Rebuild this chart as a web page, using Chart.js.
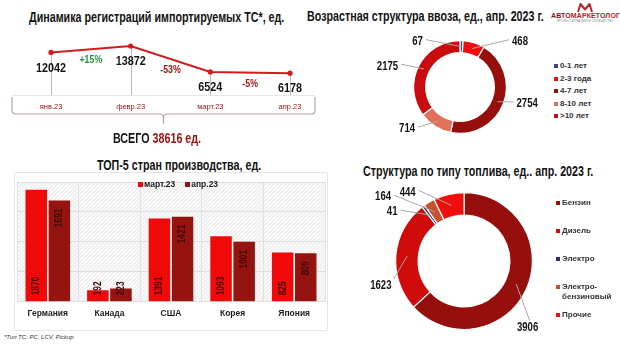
<!DOCTYPE html>
<html lang="ru">
<head>
<meta charset="utf-8">
<title>Импорт ТС, апр. 2023</title>
<script src="https://cdn.jsdelivr.net/npm/chart.js@4.4.0/dist/chart.umd.min.js"></script>
<style>
  html, body { margin: 0; padding: 0; background: #fff; }
  body {
    width: 620px; height: 345px; position: relative; overflow: hidden;
    font-family: "Liberation Sans", Arial, sans-serif;
    color: #111;
  }
  canvas { position: absolute; }
  .title {
    position: absolute; font-weight: bold; font-size: 14px; line-height: 14px;
    white-space: nowrap; color: #141414;
    transform: scaleX(0.765); transform-origin: 0 50%;
  }
  .panel {
    position: absolute; left: 14px; top: 172px; width: 312px; height: 157px;
    border: 1px solid #e6e6e6; border-radius: 2px;
  }
  .total {
    position: absolute; left: 113px; top: 131px; white-space: nowrap;
    font-weight: bold; font-size: 14.5px; line-height: 14px; color: #141414;
    transform: scaleX(0.74); transform-origin: 0 50%;
  }
  .total span { color: #a01414; }
  .legend { position: absolute; margin: 0; padding: 0; list-style: none; font-weight: bold; color: #333; }
  .legend li { position: relative; padding-left: 6px; }
  .legend li i { position: absolute; left: 0; width: 4px; height: 4px; }
  .age-legend { left: 554px; top: 60px; font-size: 8px; }
  .age-legend li { height: 12.5px; line-height: 12px; }
  .age-legend li i { top: 4px; }
  .fuel-legend { left: 556px; top: 198px; font-size: 8px; width: 52px; }
  .fuel-legend li { height: 28px; line-height: 10px; }
  .fuel-legend li i { top: 3px; }
  .bar-legend { left: 138px; top: 179px; font-size: 8.5px; display: flex; color: #222; }
  .bar-legend li { padding-left: 6px; margin-right: 10px; line-height: 11px; }
  .bar-legend li i { width: 5px; height: 5px; top: 3px; }
  .note { position: absolute; left: 4px; top: 334px; font-size: 6px; font-style: italic; color: #333; }
  .logo { position: absolute; left: 551px; top: 3px; width: 68px; text-align: center; }
  .logo b { display: block; margin-top: 9px; font-size: 7px; line-height: 7px; letter-spacing: 0.1px; color: #b0222a; }
  .logo b em { font-style: normal; color: #7d1a1e; }
  .logo small { display: block; font-size: 3px; line-height: 4px; color: #888; }
  .logo svg { position: absolute; left: 26px; top: 0; }
</style>
</head>
<body>

<div class="title" style="left:29px; top:10px;">Динамика регистраций импортируемых ТС*, ед.</div>
<div class="title" style="left:307px; top:9px;">Возрастная структура ввоза, ед., апр. 2023 г.</div>
<div class="title" style="left:97px; top:158px;">ТОП-5 стран производства, ед.</div>
<div class="title" style="left:363px; top:164px;">Структура по типу топлива, ед.. апр. 2023 г.</div>

<div class="logo">
  <svg width="16" height="10" viewBox="0 0 16 10">
    <path d="M1 9 L3.5 1 L8 6.5 L12.5 1 L15 9" fill="none" stroke="#c0242b" stroke-width="2" stroke-linejoin="round"/>
  </svg>
  <b><em>АВТО</em>МАРКЕТОЛОГ</b>
  <small>ПРОФЕССИОНАЛЬНОЕ СООБЩЕСТВО</small>
</div>

<canvas id="lineChart" width="320" height="150" style="left:0; top:0;"></canvas>
<div class="total" id="total"></div>

<div class="panel"></div>
<canvas id="barChart" width="314" height="158" style="left:14px; top:172px;"></canvas>
<ul class="legend bar-legend" id="barLegend"></ul>

<canvas id="ageChart" width="180" height="125" style="left:370px; top:25px;"></canvas>
<ul class="legend age-legend" id="ageLegend"></ul>

<canvas id="fuelChart" width="210" height="160" style="left:360px; top:180px;"></canvas>
<ul class="legend fuel-legend" id="fuelLegend"></ul>

<div class="note">*Тип ТС: PC, LCV, Pickup</div>

<script>
// ---- данные ----
var months = ['янв.23', 'февр.23', 'март.23', 'апр.23'];
var registrations = [12042, 13872, 6524, 6178];

var countries = ['Германия', 'Канада', 'США', 'Корея', 'Япония'];
var barSeries = ['март.23', 'апр.23'];
var marchByCountry = [1870, 192, 1391, 1093, 825];
var aprilByCountry = [1691, 223, 1421, 1001, 809];

var ageGroups = ['0-1 лет', '2-3 года', '4-7 лет', '8-10 лет', '>10 лет'];
var ageCounts = [67, 468, 2754, 714, 2175];

var fuelTypes = ['Бензин', 'Дизель', 'Электро', 'Электро-бензиновый', 'Прочие'];
var fuelCounts = [3906, 1623, 41, 164, 444];

// ---- оформление ----
var FONT = '"Liberation Sans", Arial, sans-serif';
var NARROW = 0.8; // сжатие подписей по ширине
Chart.defaults.font.family = FONT;
Chart.defaults.animation = false;
Chart.defaults.plugins.legend.display = false;
Chart.defaults.plugins.tooltip.enabled = false;

var ageColors = ['#4a3f8f', '#f00c0c', '#960f0c', '#e4705a', '#c90a0e'];
var fuelColors = ['#960f0c', '#d00b0b', '#2b2b6e', '#c8502f', '#f20d0d'];

function buildLegend(id, labels, colors) {
  var ul = document.getElementById(id);
  labels.forEach(function (text, i) {
    var li = document.createElement('li');
    var mark = document.createElement('i');
    mark.style.background = colors[i];
    li.appendChild(mark);
    li.appendChild(document.createTextNode(text));
    ul.appendChild(li);
  });
}

// узкий текст на канве, rot — поворот в радианах
function narrowText(ctx, text, x, y, rot) {
  ctx.save();
  ctx.translate(x, y);
  if (rot) ctx.rotate(rot);
  ctx.scale(NARROW, 1);
  ctx.fillText(text, 0, 0);
  ctx.restore();
}

// ---- линия: динамика регистраций ----
// подписи значений, % изменения, выноски вниз и фигурная скобка под месяцами
var lineDecor = {
  id: 'lineDecor',
  beforeDatasetsDraw: function (chart) {
    var ctx = chart.ctx, area = chart.chartArea;
    var pts = chart.getDatasetMeta(0).data;
    ctx.save();
    ctx.strokeStyle = '#b8b8b8';
    ctx.lineWidth = 1;
    pts.forEach(function (p) {
      ctx.beginPath();
      ctx.moveTo(Math.round(p.x) + 0.5, p.y);
      ctx.lineTo(Math.round(p.x) + 0.5, area.bottom);
      ctx.stroke();
    });
    ctx.restore();
  },
  afterDatasetsDraw: function (chart) {
    var ctx = chart.ctx, area = chart.chartArea;
    var pts = chart.getDatasetMeta(0).data;
    var vals = chart.data.datasets[0].data;
    ctx.save();
    ctx.textAlign = 'center';
    ctx.textBaseline = 'middle';

    ctx.font = 'bold 13.5px ' + FONT;
    ctx.fillStyle = '#141414';
    pts.forEach(function (p, i) {
      narrowText(ctx, String(vals[i]), p.x, p.y + 15.5);
    });

    ctx.font = 'bold 11px ' + FONT;
    for (var i = 1; i < pts.length; i++) {
      var pct = Math.round((vals[i] / vals[i - 1] - 1) * 100);
      ctx.fillStyle = pct >= 0 ? '#22963e' : '#a31414';
      var mx = (pts[i - 1].x + pts[i].x) / 2;
      var my = (pts[i - 1].y + pts[i].y) / 2;
      narrowText(ctx, (pct > 0 ? '+' : '') + pct + '%', mx, my + 11);
    }

    // скобка
    var L = 12, R = chart.width - 5, top = area.bottom + 2, bot = area.bottom + 19, r = 4;
    var mid = (L + R) / 2;
    ctx.strokeStyle = '#e6e6e6';
    ctx.lineWidth = 1;
    ctx.beginPath();
    ctx.moveTo(L, area.bottom + 0.5);
    ctx.lineTo(R, area.bottom + 0.5);
    ctx.stroke();
    ctx.strokeStyle = '#b7a3a3';
    ctx.lineWidth = 1.2;
    ctx.beginPath();
    ctx.moveTo(L, top);
    ctx.lineTo(L, bot - r);
    ctx.quadraticCurveTo(L, bot, L + r, bot);
    ctx.lineTo(mid - r, bot);
    ctx.quadraticCurveTo(mid, bot, mid, bot + r);
    ctx.lineTo(mid, bot + 10);
    ctx.moveTo(mid, bot + r);
    ctx.quadraticCurveTo(mid, bot, mid + r, bot);
    ctx.lineTo(R - r, bot);
    ctx.quadraticCurveTo(R, bot, R, bot - r);
    ctx.lineTo(R, top);
    ctx.stroke();
    ctx.restore();
  }
};

new Chart(document.getElementById('lineChart'), {
  type: 'line',
  data: {
    labels: months,
    datasets: [{
      data: registrations,
      borderColor: '#d21c1c',
      backgroundColor: '#d21c1c',
      borderWidth: 2,
      pointRadius: 2.6,
      pointBorderWidth: 0,
      tension: 0,
      clip: false
    }]
  },
  options: {
    responsive: false,
    layout: { padding: { left: 51, right: 30, top: 30, bottom: 32 } },
    scales: {
      x: {
        grid: { display: false, drawTicks: false },
        border: { display: false },
        ticks: { color: '#a01414', font: { size: 7.5 }, padding: 7, maxRotation: 0, autoSkip: false }
      },
      y: { display: false, min: 0, max: 18400 }
    }
  },
  plugins: [lineDecor]
});

var total = registrations.reduce(function (a, b) { return a + b; }, 0);
document.getElementById('total').innerHTML = 'ВСЕГО <span>' + total + ' ед.</span>';

// ---- столбцы: ТОП-5 стран ----
var hatch = (function () {
  var c = document.createElement('canvas');
  c.width = 4; c.height = 4;
  var g = c.getContext('2d');
  g.fillStyle = '#f8f8f8';
  g.fillRect(0, 0, 4, 4);
  g.fillStyle = '#e9e9e9';
  for (var k = 0; k < 4; k++) g.fillRect(k, 3 - k, 1, 1);
  return c;
})();

var plotBackground = {
  id: 'plotBackground',
  beforeDraw: function (chart) {
    var a = chart.chartArea, ctx = chart.ctx;
    ctx.save();
    ctx.fillStyle = ctx.createPattern(hatch, 'repeat');
    ctx.fillRect(a.left, a.top, a.right - a.left, a.bottom - a.top);
    ctx.restore();
  }
};

// вертикальные подписи: март — у основания, апрель — у вершины столбца
var barValues = {
  id: 'barValues',
  afterDatasetsDraw: function (chart) {
    var ctx = chart.ctx;
    ctx.save();
    ctx.font = 'bold 10.5px ' + FONT;
    ctx.fillStyle = '#3c0808';
    ctx.textAlign = 'center';
    ctx.textBaseline = 'middle';
    chart.data.datasets.forEach(function (ds, i) {
      chart.getDatasetMeta(i).data.forEach(function (bar, j) {
        var text = String(ds.data[j]);
        var w = ctx.measureText(text).width * NARROW;
        var atBase = bar.base - 6 - w / 2;
        var cy = i === 0 ? atBase : Math.min(bar.y + 8 + w / 2, atBase);
        narrowText(ctx, text, bar.x, cy, -Math.PI / 2);
      });
    });
    ctx.restore();
  }
};

var barColors = ['#f00a0a', '#951410'];

new Chart(document.getElementById('barChart'), {
  type: 'bar',
  data: {
    labels: countries,
    datasets: [
      { label: barSeries[0], data: marchByCountry, backgroundColor: barColors[0] },
      { label: barSeries[1], data: aprilByCountry, backgroundColor: barColors[1] }
    ]
  },
  options: {
    responsive: false,
    categoryPercentage: 0.75,
    barPercentage: 0.93,
    layout: { padding: { left: 3, right: 3, top: 10, bottom: 4 } },
    scales: {
      x: {
        grid: { color: '#e2e2e2', drawTicks: false },
        border: { display: false },
        ticks: { color: '#1e1e1e', font: { size: 8.5, weight: 'bold' }, padding: 7 }
      },
      y: {
        min: 0, max: 2000,
        grid: { color: '#dedede', drawTicks: false },
        border: { display: false },
        ticks: { display: false, stepSize: 500 }
      }
    }
  },
  plugins: [plotBackground, barValues]
});
buildLegend('barLegend', barSeries, barColors);

// ---- кольцевые диаграммы ----
// подпись выносится от внешнего края сектора на заданное смещение, к ней ведёт линия
var sliceLabels = {
  id: 'sliceLabels',
  afterDatasetsDraw: function (chart, args, opts) {
    var ctx = chart.ctx;
    var vals = chart.data.datasets[0].data;
    ctx.save();
    ctx.font = 'bold 12px ' + FONT;
    ctx.fillStyle = '#141414';
    ctx.textAlign = 'center';
    ctx.textBaseline = 'middle';
    chart.getDatasetMeta(0).data.forEach(function (arc, i) {
      var p = arc.getProps(['x', 'y', 'startAngle', 'endAngle', 'innerRadius', 'outerRadius']);
      var off = opts.offsets[i];
      var a = (p.startAngle + p.endAngle) / 2;
      var rm = (p.innerRadius + p.outerRadius) / 2;
      var sx = p.x + Math.cos(a) * rm, sy = p.y + Math.sin(a) * rm;
      var lx = p.x + Math.cos(a) * p.outerRadius + off[0];
      var ly = p.y + Math.sin(a) * p.outerRadius + off[1];
      var text = String(vals[i]);
      var w = ctx.measureText(text).width * NARROW;
      var ex, ey;
      if (Math.abs(off[1]) > Math.abs(off[0])) {
        ex = lx + (off[0] >= 0 ? 2 : w / 2 + 2);
        ey = ly + (off[1] > 0 ? -7 : 7);
      } else {
        ex = lx + (off[0] > 0 ? -(w / 2 + 3) : w / 2 + 3);
        ey = ly - 2;
      }
      ctx.strokeStyle = '#a8a8a8';
      ctx.lineWidth = 1;
      ctx.beginPath();
      ctx.moveTo(sx, sy);
      ctx.lineTo(ex, ey);
      ctx.stroke();
      narrowText(ctx, text, lx, ly);
    });
    ctx.restore();
  }
};

new Chart(document.getElementById('ageChart'), {
  type: 'doughnut',
  data: {
    labels: ageGroups,
    datasets: [{ data: ageCounts, backgroundColor: ageColors, borderColor: '#fff', borderWidth: 1.2 }]
  },
  options: {
    responsive: false,
    cutout: '74%',
    layout: { padding: { left: 43, right: 43, top: 15, bottom: 16 } },
    plugins: {
      sliceLabels: { offsets: [[-44, 1], [46, -1], [24, 0], [-28, 3], [-31, 0]] }
    }
  },
  plugins: [sliceLabels]
});
buildLegend('ageLegend', ageGroups, ageColors);

new Chart(document.getElementById('fuelChart'), {
  type: 'doughnut',
  data: {
    labels: fuelTypes,
    datasets: [{ data: fuelCounts, backgroundColor: fuelColors, borderColor: '#fff', borderWidth: 1.2 }]
  },
  options: {
    responsive: false,
    cutout: '67%',
    layout: { padding: { left: 35, right: 37, top: 12, bottom: 10 } },
    plugins: {
      sliceLabels: { offsets: [[1, 39], [-15, 31], [-31, 6], [-46, -5], [-41, -2]] }
    }
  },
  plugins: [sliceLabels]
});
buildLegend('fuelLegend', fuelTypes, fuelColors);
</script>
</body>
</html>
